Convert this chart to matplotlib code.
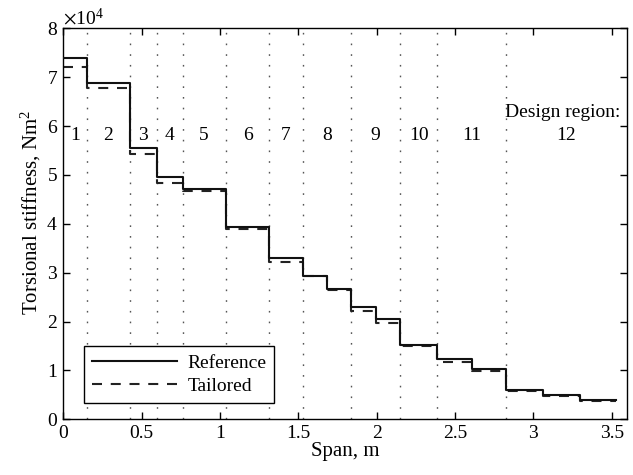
import matplotlib
matplotlib.use("Agg")
import matplotlib.pyplot as plt
from matplotlib.ticker import ScalarFormatter, FormatStrFormatter, MultipleLocator

plt.rcParams['font.family'] = ['Liberation Serif', 'DejaVu Serif']
plt.rcParams['mathtext.fontset'] = 'stix'
plt.rcParams['font.size'] = 14

# step edges along the span (m)
edges = [0, 0.151, 0.424, 0.596, 0.762, 1.036, 1.315, 1.528, 1.681, 1.834,
         1.996, 2.149, 2.385, 2.606, 2.823, 3.059, 3.297, 3.527]
# torsional stiffness, x1e4 Nm^2
reference = [7.40, 6.89, 5.55, 4.96, 4.72, 3.94, 3.30, 2.94, 2.665, 2.29,
             2.05, 1.51, 1.23, 1.035, 0.595, 0.49, 0.389]
tailored = [7.20, 6.77, 5.425, 4.83, 4.67, 3.90, 3.215, 2.93, 2.64, 2.215,
            1.975, 1.50, 1.17, 0.988, 0.585, 0.485, 0.383]

# design region boundaries and labels
region_bounds = [0.151, 0.424, 0.596, 0.762, 1.036, 1.315, 1.528, 1.834,
                 2.149, 2.385, 2.823]
region_labels = [str(i) for i in range(1, 13)]

x_max = 3.595

fig = plt.figure(figsize=(6.33, 4.75), dpi=100)
ax = fig.add_axes([0.1, 0.1173, 0.89, 0.8231])

for b in region_bounds:
    ax.axvline(b, color='#555555', linestyle=(0, (1.2, 6.5)), linewidth=1.0, zorder=1)

ref_y = [v * 1e4 for v in reference + [reference[-1]]]
tai_y = [v * 1e4 for v in tailored + [tailored[-1]]]

ax.step(edges, tai_y, where='post', color='#222222', linestyle=(0, (4.8, 4.2)),
        linewidth=1.5, label='Tailored', zorder=2)
ax.step(edges, ref_y, where='post', color='#111111', linestyle='-',
        linewidth=1.5, label='Reference', zorder=3)

# region numbers
all_bounds = [0] + region_bounds + [x_max]
for i, lab in enumerate(region_labels):
    xc = (all_bounds[i] + all_bounds[i + 1]) / 2
    ax.text(xc, 5.81e4, lab, ha='center', va='center', fontsize=14)
ax.text((all_bounds[-2] + all_bounds[-1]) / 2 - 0.02, 6.28e4, 'Design region:',
        ha='center', va='center', fontsize=14)

ax.set_xlim(0, x_max)
ax.set_ylim(0, 8e4)
ax.xaxis.set_major_locator(MultipleLocator(0.5))
ax.xaxis.set_major_formatter(FormatStrFormatter('%g'))
ax.yaxis.set_major_locator(MultipleLocator(1e4))
fmt = ScalarFormatter(useMathText=True)
fmt.set_powerlimits((0, 0))
ax.yaxis.set_major_formatter(fmt)
ax.yaxis.get_offset_text().set_fontsize(14)

ax.tick_params(direction='in', top=True, right=True, length=5, width=1,
               labelsize=14, pad=4)
for s in ax.spines.values():
    s.set_linewidth(1.0)

ax.set_xlabel('Span, m', fontsize=15, labelpad=0)
ax.set_ylabel('Torsional stiffness, Nm$^{\\mathregular{2}}$', fontsize=15)
ax.yaxis.set_label_coords(-0.036, 0.53)

handles, labels = ax.get_legend_handles_labels()
leg = ax.legend(handles[::-1], labels[::-1], loc='lower left',
                bbox_to_anchor=(0.037, 0.042), borderaxespad=0,
                fancybox=False, edgecolor='black',
                framealpha=1, handlelength=4.4, fontsize=14, borderpad=0.4,
                labelspacing=0.3, handletextpad=0.5)
leg.get_frame().set_linewidth(1.0)

fig.savefig('out.png', dpi=100)
